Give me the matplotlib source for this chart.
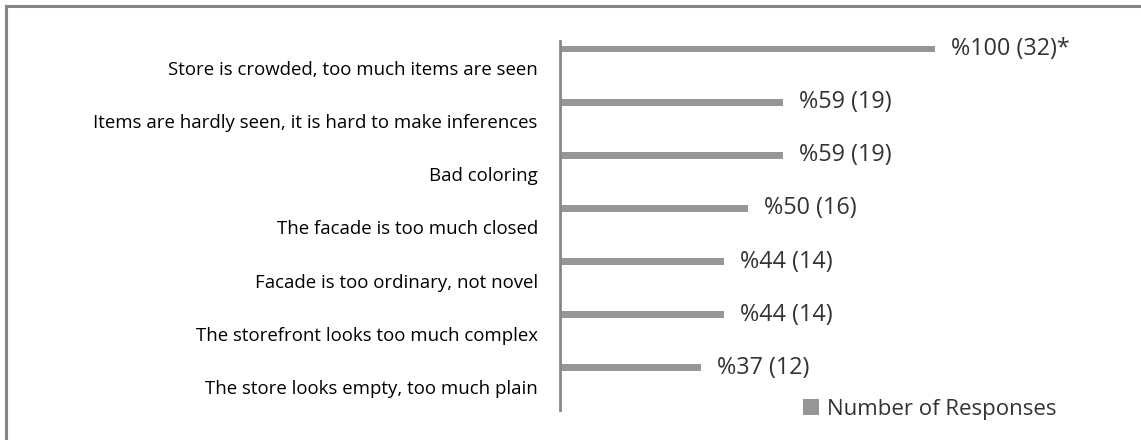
import matplotlib
matplotlib.use("Agg")
import matplotlib.pyplot as plt
from matplotlib.lines import Line2D

categories = [
    "Store is crowded, too much items are seen",
    "Items are hardly seen, it is hard to make inferences",
    "Bad coloring",
    "The facade is too much closed",
    "Facade is too ordinary, not novel",
    "The storefront looks too much complex",
    "The store looks empty, too much plain",
]
responses = [32, 19, 19, 16, 14, 14, 12]
percents = [100, 59, 59, 50, 44, 44, 37]
suffixes = ["*", "", "", "", "", "", ""]
series_name = "Number of Responses"

W, H = 1141, 440
fig = plt.figure(figsize=(W / 100, H / 100), dpi=100)
fig.patch.set_facecolor("white")

# frame lines on the top and left of the chart area
fig.add_artist(Line2D([6 / W, 6 / W], [0, 1 - 6 / H], color="#878787", lw=2.2))
fig.add_artist(Line2D([6 / W, 1], [1 - 6 / H, 1 - 6 / H], color="#878787", lw=2.2))

x0, x1 = 560, 1029
y_top, y_bot = 41, 410
ax = fig.add_axes([x0 / W, 1 - y_bot / H, (x1 - x0) / W, (y_bot - y_top) / H])
ax.set_xlim(0, 40)
ax.set_ylim(6.935, -0.008)

bar_color = "#969696"
positions = [i + 0.143 for i in range(len(categories))]
ax.barh(positions, responses, height=0.13, color=bar_color, label=series_name)

for y, v, p, s in zip(positions, responses, percents, suffixes):
    ax.annotate(f"%{p} ({v}){s}", xy=(v, y), xytext=(11.5, 0),
                textcoords="offset points", va="center", ha="left",
                fontsize=16.8, color="#333333", family="Open Sans")

ax.set_yticks([i + 0.5 for i in range(len(categories))])
ax.set_yticklabels(categories, fontsize=13.4, family="Open Sans", color="black")
ax.tick_params(axis="y", length=0, pad=16)
ax.set_xticks([])
for side in ["top", "right", "bottom"]:
    ax.spines[side].set_visible(False)
ax.spines["left"].set_color("#878787")
ax.spines["left"].set_linewidth(2)

leg = fig.legend(loc="center left", bbox_to_anchor=(803 / W, 1 - 409 / H),
                 frameon=False, handlelength=0.7, handleheight=0.7,
                 handletextpad=0.36, prop={"family": "Open Sans", "size": 16},
                 borderaxespad=0, borderpad=0)
for t in leg.get_texts():
    t.set_color("#333333")

fig.savefig("out.png", dpi=100)
